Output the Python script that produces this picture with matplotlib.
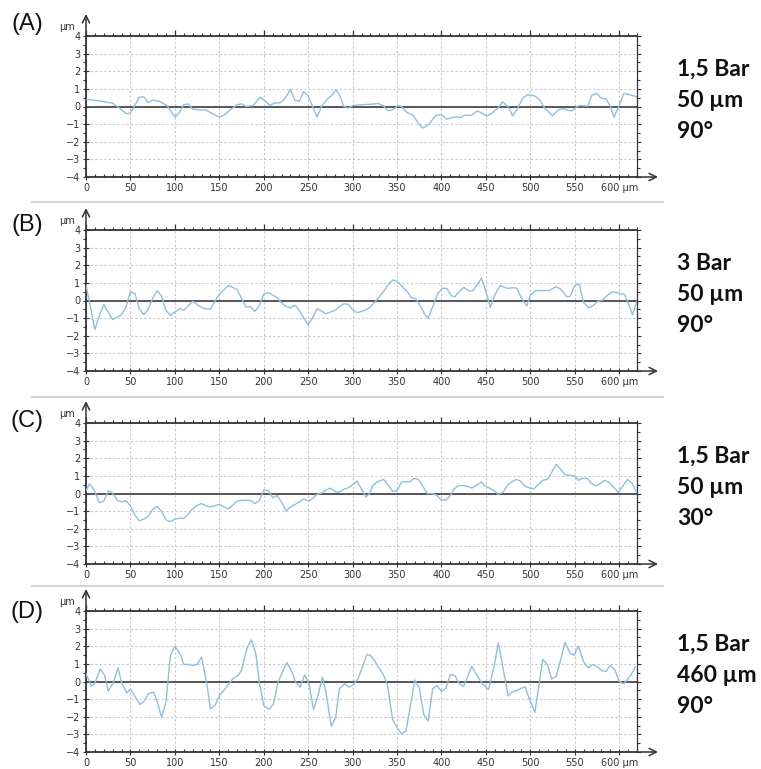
import matplotlib.pyplot as plt
from matplotlib.lines import Line2D
from matplotlib.ticker import MultipleLocator, FixedLocator, FixedFormatter

# surface profiles, position in µm and height in µm
x_a = [0, 10, 20, 30, 38, 45, 50, 55, 60, 65, 70, 75, 82, 88, 92, 100, 105, 110, 115, 120,
       130, 135, 142, 150, 155, 162, 170, 175, 180, 188, 192, 196, 202, 207, 212, 218, 222, 227, 230, 235,
       240, 245, 250, 260, 265, 272, 277, 281, 285, 290, 295, 300, 310, 321, 329, 335, 340, 346, 351, 355,
       361, 368, 374, 379, 385, 394, 400, 406, 411, 417, 421, 426, 434, 440, 445, 451, 456, 463, 469, 475,
       480, 485, 492, 497, 505, 510, 516, 525, 531, 536, 546, 550, 555, 565, 569, 575, 579, 585, 590, 594,
       600, 605, 611, 620]
y_a = [0.4, 0.35, 0.28, 0.19, -0.1, -0.4, -0.38, 0.05, 0.53, 0.55, 0.23, 0.35, 0.3, 0.15, 0.0, -0.6, -0.35, 0.1, 0.15, -0.15,
       -0.2, -0.2, -0.4, -0.6, -0.5, -0.2, 0.1, 0.15, 0.0, 0.05, 0.3, 0.53, 0.3, 0.05, 0.2, 0.2, 0.35, 0.7, 0.98, 0.35,
       0.3, 0.85, 0.6, -0.6, 0.0, 0.45, 0.65, 0.95, 0.7, 0.0, -0.1, 0.05, 0.1, 0.13, 0.17, 0.02, -0.25, -0.17, 0.05, 0.0,
       -0.34, -0.5, -0.96, -1.23, -1.04, -0.5, -0.47, -0.72, -0.64, -0.58, -0.64, -0.5, -0.5, -0.25, -0.36, -0.55, -0.4, -0.11, 0.26, -0.02,
       -0.53, -0.17, 0.51, 0.66, 0.6, 0.4, -0.08, -0.53, -0.2, -0.11, -0.26, -0.11, 0.06, 0.02, 0.64, 0.74, 0.49, 0.43, 0.02, -0.62,
       0.06, 0.74, 0.68, 0.55]

x_b = [0, 10, 15, 20, 25, 30, 35, 40, 45, 50, 55, 60, 65, 70, 75, 80, 85, 90, 95, 100,
       106, 110, 120, 128, 133, 140, 145, 150, 160, 165, 170, 175, 180, 185, 190, 195, 200, 205, 210, 215,
       220, 225, 230, 235, 240, 245, 250, 255, 260, 265, 270, 275, 280, 285, 290, 295, 300, 305, 310, 316,
       320, 328, 336, 341, 346, 351, 356, 362, 366, 371, 377, 381, 385, 390, 396, 401, 406, 411, 415, 420,
       425, 431, 435, 440, 445, 450, 455, 460, 466, 474, 481, 485, 490, 496, 500, 506, 521, 529, 534, 541,
       545, 550, 555, 560, 566, 571, 576, 581, 587, 593, 598, 602, 606, 611, 615, 620]
y_b = [0.88, -1.65, -0.85, -0.23, -0.65, -1.08, -0.94, -0.8, -0.37, 0.5, 0.4, -0.46, -0.8, -0.5, 0.12, 0.56, 0.25, -0.56, -0.85, -0.65,
       -0.46, -0.56, -0.04, -0.33, -0.46, -0.5, -0.04, 0.35, 0.85, 0.75, 0.62, 0.12, -0.37, -0.35, -0.62, -0.31, 0.37, 0.44, 0.31, 0.15,
       -0.13, -0.33, -0.42, -0.27, -0.56, -1.0, -1.37, -0.98, -0.46, -0.6, -0.75, -0.65, -0.56, -0.37, -0.19, -0.21, -0.52, -0.69, -0.62, -0.5,
       -0.37, 0.08, 0.6, 0.98, 1.17, 1.04, 0.79, 0.46, 0.17, 0.12, -0.37, -0.79, -1.0, -0.37, 0.4, 0.69, 0.69, 0.27, 0.21, 0.5,
       0.75, 0.54, 0.54, 0.88, 1.27, 0.5, -0.4, 0.31, 0.85, 0.69, 0.73, 0.69, 0.12, -0.31, 0.31, 0.56, 0.56, 0.79, 0.65, 0.21,
       0.25, 0.88, 0.92, -0.12, -0.42, -0.27, -0.04, 0.02, 0.31, 0.5, 0.44, 0.38, 0.35, -0.27, -0.81, -0.04]

x_c = [0, 4, 9, 15, 20, 25, 30, 35, 40, 45, 50, 55, 60, 65, 70, 75, 80, 85, 90, 95,
       100, 105, 110, 115, 120, 125, 130, 135, 140, 145, 150, 155, 160, 165, 170, 176, 185, 190, 195, 200,
       205, 210, 215, 220, 225, 230, 235, 239, 245, 250, 254, 260, 265, 269, 275, 280, 284, 290, 294, 299,
       305, 309, 315, 319, 323, 328, 335, 339, 345, 350, 355, 360, 365, 369, 374, 379, 384, 390, 394, 400,
       405, 409, 414, 419, 424, 429, 434, 439, 445, 449, 454, 459, 464, 469, 474, 479, 484, 489, 494, 499,
       504, 509, 514, 519, 524, 529, 534, 539, 544, 550, 554, 559, 564, 568, 574, 579, 584, 589, 594, 599,
       604, 609, 614, 619]
y_c = [0.16, 0.55, 0.22, -0.53, -0.43, 0.16, 0.02, -0.39, -0.47, -0.41, -0.7, -1.22, -1.55, -1.45, -1.29, -0.9, -0.73, -1.02, -1.49, -1.6,
       -1.45, -1.41, -1.41, -1.16, -0.86, -0.67, -0.57, -0.7, -0.76, -0.7, -0.61, -0.76, -0.86, -0.67, -0.43, -0.39, -0.39, -0.57, -0.41, 0.2,
       0.18, -0.24, -0.12, -0.47, -1.0, -0.76, -0.63, -0.51, -0.31, -0.43, -0.33, -0.04, 0.02, 0.16, 0.31, 0.12, 0.06, 0.24, 0.31, 0.45,
       0.71, 0.35, -0.2, 0.0, 0.47, 0.67, 0.8, 0.55, 0.12, 0.16, 0.65, 0.67, 0.67, 0.86, 0.8, 0.41, 0.0, 0.0, -0.08, -0.37,
       -0.37, -0.18, 0.25, 0.45, 0.45, 0.41, 0.31, 0.45, 0.65, 0.43, 0.31, 0.16, -0.04, 0.06, 0.45, 0.67, 0.8, 0.7, 0.41, 0.31,
       0.27, 0.51, 0.75, 0.8, 1.2, 1.65, 1.39, 1.06, 1.04, 0.98, 0.75, 0.86, 0.86, 0.61, 0.43, 0.59, 0.75, 0.61, 0.35, 0.06,
       0.41, 0.8, 0.61, 0.12]

x_d = [0, 6, 10, 16, 21, 25, 31, 36, 40, 46, 50, 55, 61, 66, 70, 76, 80, 85, 90, 95,
       100, 106, 110, 115, 120, 125, 130, 136, 140, 145, 151, 156, 160, 166, 171, 175, 181, 186, 191, 195,
       200, 206, 211, 216, 221, 226, 231, 236, 241, 246, 251, 256, 261, 266, 270, 276, 281, 285, 291, 296,
       301, 306, 311, 316, 320, 324, 329, 334, 339, 345, 350, 355, 360, 365, 370, 375, 380, 385, 390, 395,
       400, 405, 410, 415, 420, 425, 434, 440, 446, 453, 459, 464, 469, 475, 479, 486, 494, 499, 505, 509,
       514, 519, 524, 529, 534, 539, 545, 549, 554, 560, 565, 570, 575, 580, 585, 590, 595, 600, 605, 610,
       614, 618]
y_d = [0.44, -0.27, -0.1, 0.72, 0.34, -0.55, -0.04, 0.78, -0.04, -0.66, -0.42, -0.85, -1.31, -1.08, -0.7, -0.6, -1.12, -2.03, -1.17, 1.48,
       1.99, 1.57, 0.97, 0.97, 0.91, 0.97, 1.38, -0.13, -1.55, -1.36, -0.74, -0.45, -0.17, 0.19, 0.34, 0.63, 1.86, 2.37, 1.61, -0.04,
       -1.36, -1.59, -1.27, -0.04, 0.53, 1.08, 0.63, -0.04, -0.32, 0.38, -0.13, -1.59, -0.8, 0.25, -0.6, -2.54, -2.03, -0.42, -0.13, -0.32,
       -0.17, 0.15, 0.81, 1.53, 1.48, 1.25, 0.82, 0.44, -0.13, -2.15, -2.62, -2.97, -2.82, -1.38, 0.1, -0.38, -1.86, -2.24, -0.42, -0.23,
       -0.57, -0.38, 0.4, 0.34, -0.13, -0.27, 0.86, 0.34, -0.13, -0.46, 0.82, 2.2, 0.82, -0.82, -0.61, -0.48, -0.29, -1.0, -1.76, -0.42,
       1.25, 0.98, 0.15, 0.29, 1.21, 2.22, 1.59, 1.49, 2.01, 1.11, 0.77, 0.96, 0.86, 0.63, 0.57, 0.92, 0.67, 0.0, -0.13, 0.15,
       0.44, 0.82]

panel_labels = ['(A)', '(B)', '(C)', '(D)']
conditions = ['1,5 Bar\n50 µm\n90°', '3 Bar\n50 µm\n90°', '1,5 Bar\n50 µm\n30°', '1,5 Bar\n460 µm\n90°']
x_ticks = list(range(0, 601, 50))
x_ticklabels = [str(t) for t in x_ticks[:-1]] + ['600 µm']

profiles = [(x_a, y_a), (x_b, y_b), (x_c, y_c), (x_d, y_d)]

W, H = 761, 769
fig = plt.figure(figsize=(W / 100, H / 100), dpi=100)

ax_left, ax_w, ax_h = 86, 551, 141
ax_tops = [36, 230, 423, 611]
label_y = [24, 225, 421, 612]
sep_y = [202, 397, 586]

dark = '#333333'

for i, (xs, ys) in enumerate(profiles):
    top = ax_tops[i]
    ax = fig.add_axes([ax_left / W, 1 - (top + ax_h) / H, ax_w / W, ax_h / H])
    ax.plot(xs, ys, color='#8cc0e2', lw=1.0, zorder=3)
    ax.axhline(0, color='#4a4a4a', lw=1.3, zorder=2)

    ax.set_xlim(0, 620)
    ax.set_ylim(-4, 4)

    ax.xaxis.set_major_locator(FixedLocator(x_ticks))
    ax.xaxis.set_major_formatter(FixedFormatter(x_ticklabels))
    ax.xaxis.set_minor_locator(MultipleLocator(10))
    ax.yaxis.set_major_locator(MultipleLocator(1))
    ax.yaxis.set_minor_locator(MultipleLocator(0.5))

    ax.grid(which='major', color='#c8c8c8', linestyle=(0, (2, 2)), lw=0.8, zorder=1)

    for side in ['left', 'bottom', 'top']:
        ax.spines[side].set_color(dark)
        ax.spines[side].set_linewidth(1.3)
    ax.spines['right'].set_color(dark)
    ax.spines['right'].set_linewidth(0.9)

    ax.tick_params(axis='x', which='major', direction='inout', length=4, width=0.8,
                   color=dark, labelsize=7, labelcolor='#333333', pad=2)
    ax.tick_params(axis='x', which='minor', direction='in', length=2, width=0.8, color=dark)
    ax.tick_params(axis='y', which='major', direction='inout', length=4, width=0.8,
                   color=dark, labelsize=7, labelcolor='#333333', pad=2)
    ax.tick_params(axis='y', which='minor', direction='out', length=2, width=0.8, color=dark)

    # top and right scales without labels
    top_ax = ax.secondary_xaxis('top')
    top_ax.xaxis.set_major_locator(MultipleLocator(100))
    top_ax.xaxis.set_minor_locator(MultipleLocator(10))
    top_ax.tick_params(which='major', direction='out', length=4, width=0.9, color=dark, labeltop=False)
    top_ax.tick_params(which='minor', direction='out', length=2, width=0.8, color=dark)
    top_ax.spines['top'].set_visible(False)

    right_ax = ax.secondary_yaxis('right')
    right_ax.yaxis.set_major_locator(MultipleLocator(1))
    right_ax.yaxis.set_minor_locator(MultipleLocator(0.5))
    right_ax.tick_params(which='major', direction='out', length=3, width=0.8, color=dark, labelright=False)
    right_ax.tick_params(which='minor', direction='out', length=2, width=0.8, color=dark)
    right_ax.spines['right'].set_visible(False)

    # axis arrows
    ax.annotate('', xy=(0, 1 + 22 / ax_h), xytext=(0, 1), xycoords='axes fraction',
                arrowprops=dict(arrowstyle='->', lw=1.1, color=dark, mutation_scale=13,
                                shrinkA=0, shrinkB=0), annotation_clip=False)
    ax.annotate('', xy=(1 + 21 / ax_w, 0), xytext=(1, 0), xycoords='axes fraction',
                arrowprops=dict(arrowstyle='->', lw=1.1, color=dark, mutation_scale=13,
                                shrinkA=0, shrinkB=0), annotation_clip=False)
    ax.text(-19 / ax_w, 1 + 9 / ax_h, 'µm', transform=ax.transAxes, ha='center', va='center',
            fontsize=7, color='#333333')

    fig.text(27 / W, 1 - label_y[i] / H, panel_labels[i], ha='center', va='center',
             fontsize=17, family='Liberation Sans', color='#111111')
    fig.text(677 / W, 1 - (top + ax_h / 2 - 6) / H, conditions[i], ha='left', va='center',
             fontsize=16.5, fontweight='bold', family='Lato', linespacing=1.6, color='#111111')

for y in sep_y:
    fig.add_artist(Line2D([32 / W, 663 / W], [1 - y / H, 1 - y / H], color='#d4d4d4', lw=1.6))

fig.savefig('out.png', dpi=100)
